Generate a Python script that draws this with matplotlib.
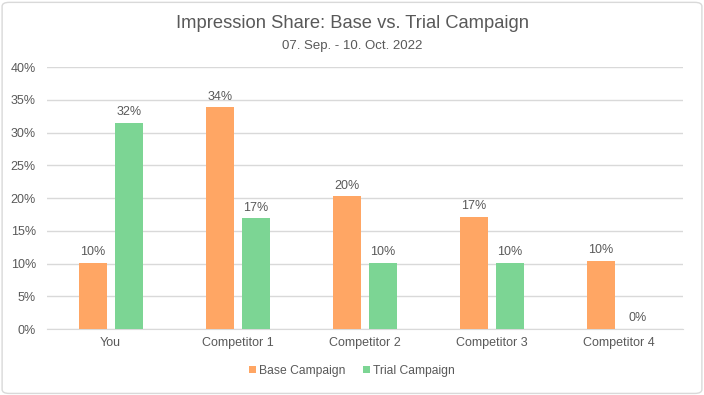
import numpy as np
import matplotlib.pyplot as plt
from matplotlib.patches import FancyBboxPatch

# Impression share per competitor, in percent
categories = ['You', 'Competitor 1', 'Competitor 2', 'Competitor 3', 'Competitor 4']
base_vals = [10.1, 33.9, 20.3, 17.1, 10.4]
trial_vals = [31.5, 16.9, 10.1, 10.1, 0.0]
base_labels = ['10%', '34%', '20%', '17%', '10%']
trial_labels = ['32%', '17%', '10%', '10%', '0%']

plt.rcParams['font.family'] = ['Liberation Sans', 'DejaVu Sans']
txtcol = '#595959'
orange = '#FFA664'
green = '#7CD594'

fig = plt.figure(figsize=(7.04, 3.95), dpi=100)
ax = fig.add_axes([0.0668, 0.167, 0.903, 0.663])

x = np.arange(len(categories))
w = 0.22
off = 0.142
ax.bar(x - off, base_vals, w, color=orange, label='Base Campaign', zorder=3)
ax.bar(x + off, trial_vals, w, color=green, label='Trial Campaign', zorder=3)

for i in range(len(categories)):
    ax.text(x[i] - off, base_vals[i] + 0.7, base_labels[i], ha='center', va='bottom',
            fontsize=9, color=txtcol)
    ax.text(x[i] + off, trial_vals[i] + 0.7, trial_labels[i], ha='center', va='bottom',
            fontsize=9, color=txtcol)

ax.set_xlim(-0.5, len(categories) - 0.5)
ax.set_ylim(0, 40)
yt = np.arange(0, 45, 5)
ax.set_yticks(yt)
ax.set_yticklabels(['%d%%' % v for v in yt])
ax.set_xticks(x)
ax.set_xticklabels(categories)
ax.tick_params(axis='both', length=0, labelsize=9, labelcolor=txtcol)
ax.tick_params(axis='y', pad=8)
ax.tick_params(axis='x', pad=6)
ax.grid(axis='y', color='#D9D9D9', linewidth=1, zorder=0)
for s in ['top', 'right', 'left']:
    ax.spines[s].set_visible(False)
ax.spines['bottom'].set_color('#D9D9D9')

fig.text(0.5, 0.940, 'Impression Share: Base vs. Trial Campaign', ha='center', va='center',
         fontsize=13.2, color=txtcol)
fig.text(0.5, 0.884, '07. Sep. - 10. Oct. 2022', ha='center', va='center',
         fontsize=9.5, color=txtcol)

leg = fig.legend(loc='center', bbox_to_anchor=(0.5, 0.062), ncol=2, frameon=False,
                 fontsize=8.7, handlelength=0.55, handleheight=0.55, handletextpad=0.25,
                 columnspacing=1.5)
for t in leg.get_texts():
    t.set_color(txtcol)

border = FancyBboxPatch((0.003, 0.004), 0.994, 0.99, boxstyle='round,pad=0,rounding_size=0.01',
                        transform=fig.transFigure, fill=False, edgecolor='#D9D9D9', linewidth=1)
fig.patches.append(border)

fig.savefig('out.png', dpi=100)
